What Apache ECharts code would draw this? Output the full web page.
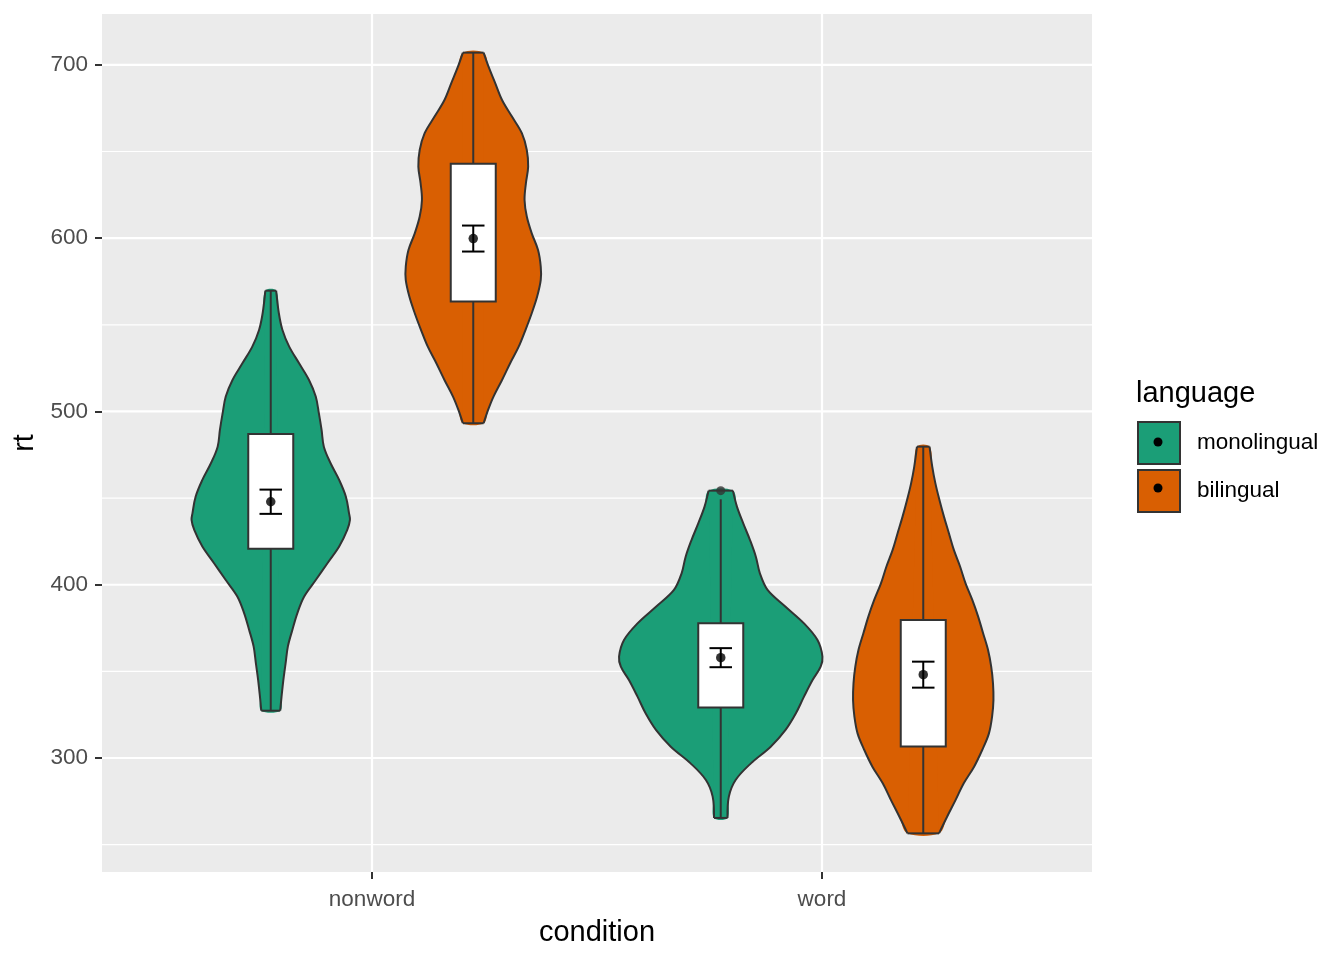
<!DOCTYPE html>
<html>
<head>
<meta charset="utf-8">
<script src="https://cdn.jsdelivr.net/npm/echarts@6/dist/echarts.min.js"></script>
<style>html,body{margin:0;padding:0;background:#fff}#c{width:1344px;height:960px}</style>
</head>
<body>
<div id="c"></div>
<script>
// ---------- data ----------
const conditions = ['nonword', 'word'];
const languages = ['monolingual', 'bilingual'];
const langColors = ['#1B9E77', '#D95F02'];
const yTicks = [300, 400, 500, 600, 700];
const yMinorTicks = [250, 350, 450, 550, 650];
const xTicks = [1, 2];

// violin outlines: [rt, half-width in x-axis units], top to bottom
const violinNonwordMono = [
  [569.7,0.012],[556.7,0.018],[547.0,0.026],[537.4,0.041],[527.8,0.063],[518.2,0.085],
  [508.6,0.100],[498.9,0.107],[489.3,0.113],[479.7,0.118],[470.1,0.133],[460.5,0.152],
  [450.8,0.167],[441.2,0.174],[437.4,0.176],[431.6,0.170],[422.0,0.152],[412.4,0.126],
  [402.7,0.100],[393.1,0.074],[383.5,0.059],[373.9,0.048],[364.3,0.038],[354.6,0.033],
  [345.0,0.028],[335.4,0.024],[327.3,0.021]
];
const violinWordMono = [
  [454.3,0.027],[445.1,0.036],[435.4,0.050],[425.8,0.065],[416.2,0.078],[406.6,0.087],
  [397.0,0.104],[387.3,0.144],[377.7,0.185],[368.1,0.215],[358.5,0.226],[352.7,0.222],
  [345.0,0.204],[335.4,0.185],[325.8,0.167],[316.2,0.144],[306.5,0.111],[296.9,0.067],
  [287.3,0.033],[277.7,0.018],[265.4,0.015]
];
const violinNonwordBili = [
  [707.1,0.023],[699.0,0.034],[689.4,0.049],[679.8,0.064],[670.2,0.086],[660.6,0.108],
  [650.9,0.119],[641.3,0.122],[631.7,0.117],[622.1,0.114],[612.5,0.119],[602.8,0.130],
  [593.2,0.144],[583.6,0.150],[575.9,0.150],[566.3,0.142],[556.7,0.130],[547.0,0.116],
  [537.4,0.101],[527.8,0.082],[518.2,0.064],[508.6,0.045],[500.9,0.033],[493.2,0.023]
];
const violinWordBili = [
  [479.7,0.014],[468.2,0.020],[458.5,0.027],[448.9,0.036],[439.3,0.046],[429.7,0.057],
  [420.1,0.068],[410.4,0.082],[400.8,0.094],[391.2,0.109],[381.6,0.122],[372.0,0.133],
  [362.3,0.144],[352.7,0.151],[343.1,0.155],[333.5,0.156],[323.9,0.153],[314.2,0.146],
  [304.6,0.131],[295.0,0.113],[285.4,0.090],[275.8,0.072],[266.1,0.053],[256.5,0.035]
];

// boxplots per condition: [lower whisker, Q1, Q3, upper whisker]
const boxMono = [[327.3, 420.8, 487.0, 569.7], [265.4, 329.2, 377.7, 449.3]];
const boxBili = [[493.2, 563.4, 642.9, 707.1], [256.5, 306.6, 379.7, 479.7]];
// outliers: [condition index, language index, rt]
const outliers = [[1, 0, 454.3]];

// means and standard errors per condition
const meanMono = [447.9, 357.9];
const seMono = [7.0, 5.5];
const meanBili = [599.8, 348.1];
const seBili = [7.5, 7.5];

// ---------- chart ----------
const FONT = '"Liberation Sans", Arial, sans-serif';
const INK = '#333333';
const DODGE = 0.225, BOX_HALF = 0.05, CAP_HALF = 0.025;
const Y_MIN = 234.2, Y_MAX = 729.4, X_MIN = 0.4, X_MAX = 2.6;
const violins = [[violinNonwordMono, violinWordMono], [violinNonwordBili, violinWordBili]];
const boxes = [boxMono, boxBili];
const means = [meanMono, meanBili];
const ses = [seMono, seBili];
const dodge = li => (li === 0 ? -DODGE : DODGE);

function violinSeries(li) {
  return {
    type: 'custom',
    name: languages[li],
    z: 2,
    itemStyle: { color: langColors[li], borderColor: INK, borderWidth: 2 },
    data: conditions.map((c, ci) => [ci + 1 + dodge(li), ci]),
    renderItem(params, api) {
      const xc = api.value(0);
      const prof = violins[li][api.value(1)];
      const right = prof.map(([rt, hw]) => api.coord([xc + hw, rt]));
      const left = prof.map(([rt, hw]) => api.coord([xc - hw, rt])).reverse();
      const n = prof.length;
      return { type: 'group', children: [
        { type: 'polyline', shape: { points: right, smooth: 0.35 },
          style: { fill: null, stroke: INK, lineWidth: 2 }, z2: 2 },
        { type: 'polyline', shape: { points: left, smooth: 0.35 },
          style: { fill: null, stroke: INK, lineWidth: 2 }, z2: 2 },
        { type: 'line', shape: { x1: left[n - 1][0], y1: left[n - 1][1], x2: right[0][0], y2: right[0][1] },
          style: { stroke: INK, lineWidth: 2 }, z2: 2 },
        { type: 'line', shape: { x1: right[n - 1][0], y1: right[n - 1][1], x2: left[0][0], y2: left[0][1] },
          style: { stroke: INK, lineWidth: 2 }, z2: 2 },
        { type: 'polygon', shape: { points: right.concat(left), smooth: 0.35 },
          style: { fill: langColors[li], stroke: null }, z2: 1 },
        { type: 'polygon', shape: { points: [right[0], right[n - 1], left[0], left[n - 1]] },
          style: { fill: langColors[li], stroke: null }, z2: 1 }
      ] };
    }
  };
}

const boxData = [];
const errData = [];
const meanData = [];
languages.forEach((l, li) => {
  conditions.forEach((c, ci) => {
    const x = ci + 1 + dodge(li);
    boxData.push([x].concat(boxes[li][ci]));
    errData.push([x, means[li][ci], ses[li][ci]]);
    meanData.push([x, means[li][ci]]);
  });
});
const outlierData = outliers.map(([ci, li, v]) => [ci + 1 + dodge(li), v]);

const option = {
  animation: false,
  textStyle: { fontFamily: FONT },
  grid: { left: 102, top: 14, width: 990, height: 858, show: true, backgroundColor: '#EBEBEB', borderWidth: 0 },
  xAxis: {
    type: 'value', min: X_MIN, max: X_MAX,
    name: 'condition', nameLocation: 'middle', nameGap: 46,
    nameTextStyle: { fontSize: 29, color: '#000', fontFamily: FONT },
    axisLine: { show: false, onZero: false },
    axisTick: { show: true, customValues: xTicks, length: 7, lineStyle: { color: INK, width: 2 } },
    axisLabel: { customValues: xTicks, formatter: v => conditions[Math.round(v) - 1] || '',
      fontSize: 22.5, color: '#4D4D4D', margin: 16 },
    splitLine: { show: false }
  },
  yAxis: {
    type: 'value', min: Y_MIN, max: Y_MAX,
    name: 'rt', nameLocation: 'middle', nameGap: 57,
    nameTextStyle: { fontSize: 29, color: '#000', fontFamily: FONT },
    axisLine: { show: false, onZero: false },
    axisTick: { show: true, customValues: yTicks, length: 7, lineStyle: { color: INK, width: 2 } },
    axisLabel: { customValues: yTicks, fontSize: 22.5, color: '#4D4D4D', margin: 14 },
    splitLine: { show: false }
  },
  legend: {
    data: languages, orient: 'vertical', left: 1137, top: 421, padding: 0,
    itemWidth: 42, itemHeight: 42, itemGap: 4, icon: 'rect', selectedMode: false,
    itemStyle: { borderColor: INK, borderWidth: 2 },
    textStyle: { fontSize: 22.5, color: '#000', fontFamily: FONT, padding: [0, 0, 0, 12] }
  },
  graphic: [
    { type: 'text', left: 1136, top: 379, style: { text: 'language', fontSize: 29, fill: '#000', font: '29px ' + FONT } },
    { type: 'circle', shape: { cx: 1158, cy: 442, r: 4.5 }, style: { fill: '#000' }, z: 100 },
    { type: 'circle', shape: { cx: 1158, cy: 488, r: 4.5 }, style: { fill: '#000' }, z: 100 }
  ],
  series: [
    {
      type: 'custom', name: 'grid', silent: true, z: 1,
      data: [[1, 300]],
      renderItem(params, api) {
        const cs = params.coordSys;
        const children = [];
        yMinorTicks.forEach(v => {
          const y = api.coord([X_MIN, v])[1];
          children.push({ type: 'line', shape: { x1: cs.x, y1: y, x2: cs.x + cs.width, y2: y }, style: { stroke: '#fff', lineWidth: 1.1 } });
        });
        yTicks.forEach(v => {
          const y = api.coord([X_MIN, v])[1];
          children.push({ type: 'line', shape: { x1: cs.x, y1: y, x2: cs.x + cs.width, y2: y }, style: { stroke: '#fff', lineWidth: 2.2 } });
        });
        xTicks.forEach(v => {
          const x = api.coord([v, Y_MIN])[0];
          children.push({ type: 'line', shape: { x1: x, y1: cs.y, x2: x, y2: cs.y + cs.height }, style: { stroke: '#fff', lineWidth: 2.2 } });
        });
        return { type: 'group', children };
      }
    },
    violinSeries(0),
    violinSeries(1),
    {
      type: 'custom', name: 'box', z: 3, silent: true,
      data: boxData,
      renderItem(params, api) {
        const x = api.value(0);
        const lo = api.coord([x, api.value(1)]);
        const q1 = api.coord([x, api.value(2)]);
        const q3 = api.coord([x, api.value(3)]);
        const hi = api.coord([x, api.value(4)]);
        const l = api.coord([x - BOX_HALF, api.value(3)]);
        const r = api.coord([x + BOX_HALF, api.value(2)]);
        return { type: 'group', children: [
          { type: 'line', shape: { x1: hi[0], y1: hi[1], x2: q3[0], y2: q3[1] }, style: { stroke: INK, lineWidth: 2 } },
          { type: 'line', shape: { x1: q1[0], y1: q1[1], x2: lo[0], y2: lo[1] }, style: { stroke: INK, lineWidth: 2 } },
          { type: 'rect', shape: { x: l[0], y: l[1], width: r[0] - l[0], height: r[1] - l[1] }, style: { fill: '#fff', stroke: INK, lineWidth: 2 } }
        ] };
      }
    },
    {
      type: 'scatter', name: 'outlier', z: 4, silent: true,
      data: outlierData, symbol: 'circle', symbolSize: 9,
      itemStyle: { color: INK }
    },
    {
      type: 'custom', name: 'errorbar', z: 5, silent: true,
      data: errData,
      renderItem(params, api) {
        const x = api.value(0), m = api.value(1), s = api.value(2);
        const top = api.coord([x, m + s]);
        const bot = api.coord([x, m - s]);
        const tl = api.coord([x - CAP_HALF, m + s]);
        const tr = api.coord([x + CAP_HALF, m + s]);
        const bl = api.coord([x - CAP_HALF, m - s]);
        const br = api.coord([x + CAP_HALF, m - s]);
        const st = { stroke: '#000', lineWidth: 2 };
        return { type: 'group', children: [
          { type: 'line', shape: { x1: top[0], y1: top[1], x2: bot[0], y2: bot[1] }, style: st },
          { type: 'line', shape: { x1: tl[0], y1: tl[1], x2: tr[0], y2: tr[1] }, style: st },
          { type: 'line', shape: { x1: bl[0], y1: bl[1], x2: br[0], y2: br[1] }, style: st }
        ] };
      }
    },
    {
      type: 'scatter', name: 'mean', z: 6, silent: true,
      data: meanData, symbol: 'circle', symbolSize: 9.5,
      itemStyle: { color: '#000' }
    }
  ]
};
const chart = echarts.init(document.getElementById('c'));
chart.setOption(option);
</script>
</body>
</html>
